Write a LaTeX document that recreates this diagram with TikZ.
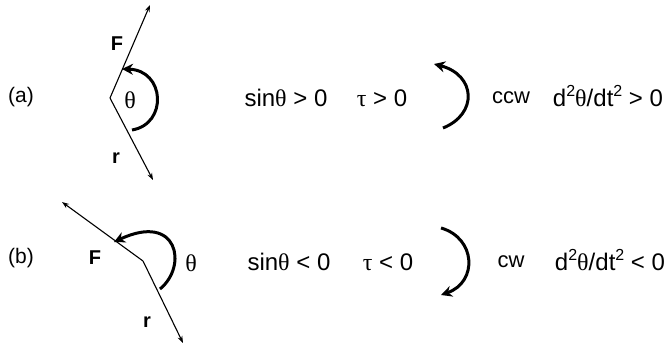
\documentclass[tikz,border=0pt]{standalone}
\usepackage{fontspec}
\setmainfont{Liberation Sans}
\newfontfamily\symf{Liberation Serif}
\usetikzlibrary{arrows.meta}
\newcommand{\supt}{\raisebox{0.42em}{\fontsize{16}{18}\selectfont 2}}
\begin{document}
\begin{tikzpicture}[x=1pt,y=-1pt,
  lab/.style={font=\fontsize{21}{24}\selectfont, inner sep=0pt},
  txt/.style={font=\fontsize{24}{28}\selectfont, inner sep=0pt},
  dir/.style={font=\fontsize{22}{26}\selectfont, inner sep=0pt},
  lbl/.style={font=\fontsize{20}{24}\selectfont\bfseries, inner sep=0pt},
  vec/.style={line width=1.1pt, -{Stealth[length=7pt,width=5pt]}},
  turn/.style={line width=3pt, -{Stealth[length=11pt,width=11pt]}}]
\useasboundingbox (0,0) rectangle (671,345);
% panel (a)
\node[lab] (la) at (21,97) {(a)};
\coordinate (oa) at (110,98);
\coordinate (fa) at (150,5);
\coordinate (ra) at (153,180);
\draw[vec] (oa) -- (fa);
\draw[vec] (oa) -- (ra);
\node[lbl] (Fa) at (117,44) {F};
\node[lbl] (rA) at (116,158) {r};
\node[txt] (tha) at (130,100) {\symf θ};
\coordinate (a1) at (132,130);
\coordinate (a2) at (122,69);
\draw[turn] (a1) .. controls (168,124) and (165,70) .. (a2);
\node[txt] (sa) at (286,98) {sin{\symf θ} > 0};
\node[txt] (ta) at (382,98) {{\symf τ} > 0};
\coordinate (b1) at (443,128);
\coordinate (b2) at (434,64);
\draw[turn] (b1) .. controls (478,114) and (476,75) .. (b2);
\node[dir] (ca) at (511,98) {ccw};
\node[txt] (da) at (608,96) {d\supt{\symf θ}/dt\supt{} > 0};
% panel (b)
\node[lab] (lb) at (21,258) {(b)};
\coordinate (ob) at (143,261);
\coordinate (fb) at (62,202);
\coordinate (rb) at (183,343);
\draw[vec] (ob) -- (fb);
\draw[vec] (ob) -- (rb);
\node[lbl] (Fb) at (95,258) {F};
\node[lbl] (rB) at (147,322) {r};
\node[txt] (thb) at (191,263) {\symf θ};
\coordinate (c1) at (160,289);
\coordinate (c2) at (114,242);
\draw[turn] (c1) .. controls (188,266) and (178,212) .. (c2);
\node[txt] (sb) at (289,262) {sin{\symf θ} < 0};
\node[txt] (tb) at (388,262) {{\symf τ} < 0};
\coordinate (d1) at (441,228);
\coordinate (d2) at (441,295);
\draw[turn] (d1) .. controls (476,238) and (478,282) .. (d2);
\node[dir] (cb) at (511,262) {cw};
\node[txt] (db) at (610,260) {d\supt{\symf θ}/dt\supt{} < 0};
\end{tikzpicture}
\end{document}
